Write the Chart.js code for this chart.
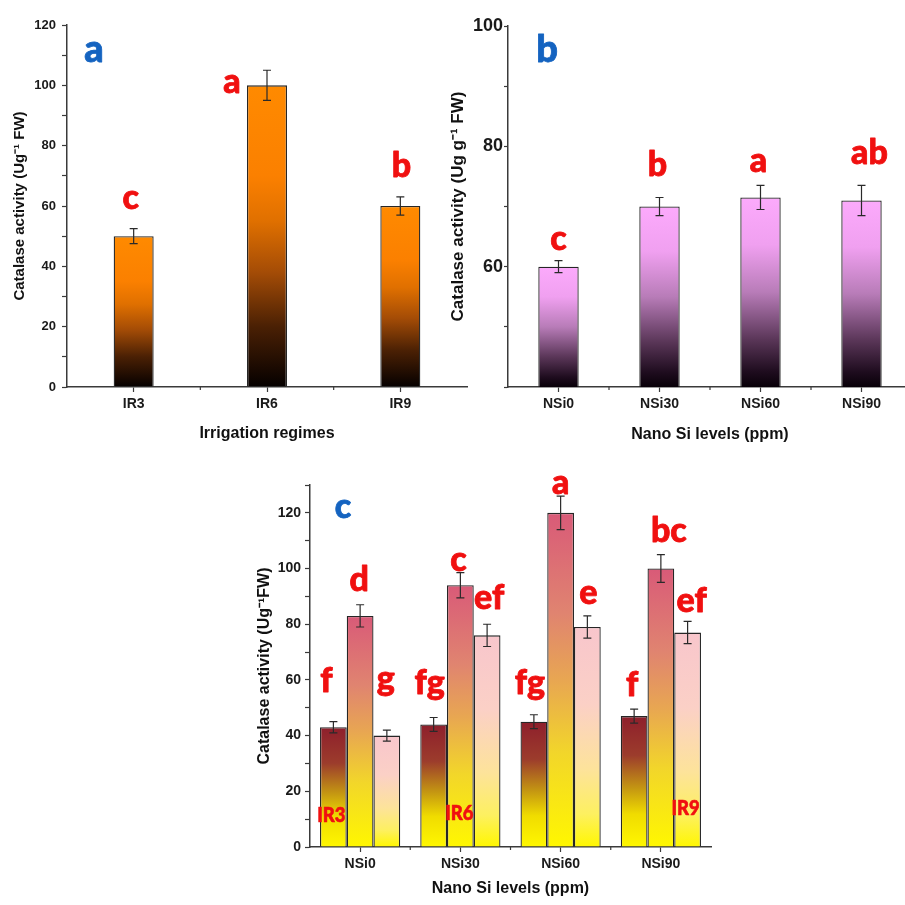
<!DOCTYPE html>
<html><head><meta charset="utf-8">
<script src="https://cdn.jsdelivr.net/npm/chart.js@4.4.0/dist/chart.umd.min.js"></script>
<style>
html,body{margin:0;padding:0;background:#fff;width:905px;height:905px;overflow:hidden;position:relative;}
canvas{position:absolute;}
</style></head><body>
<canvas id="ca" width="470" height="445" style="left:0;top:0;width:470px;height:445px"></canvas>
<canvas id="cb" width="472" height="445" style="left:440px;top:0;width:472px;height:445px"></canvas>
<canvas id="cc" width="484" height="455" style="left:230px;top:450px;width:484px;height:455px"></canvas>
<script>
// ---------- DATA ----------
const irCategories = ['IR3', 'IR6', 'IR9'];
const irValues = [50, 100, 60];
const irErrors = [2.5, 5, 3];
const irLetters = ['c', 'a', 'b'];

const nsiCategories = ['NSi0', 'NSi30', 'NSi60', 'NSi90'];
const nsiValues = [60, 70, 71.5, 71];
const nsiErrors = [1, 1.5, 2, 2.5];
const nsiLetters = ['c', 'b', 'a', 'ab'];

const comboSeries = ['IR3', 'IR6', 'IR9'];
const comboIR3 = [43, 44, 45, 47];
const comboIR6 = [83, 94, 120, 100];
const comboIR9 = [40, 76, 79, 77];
const comboIR3Err = [2, 2.5, 2.5, 2.5];
const comboIR6Err = [4, 4.5, 6, 5];
const comboIR9Err = [2, 4, 4, 4];
const comboIR3Letters = ['f', 'fg', 'fg', 'f'];
const comboIR6Letters = ['d', 'c', 'a', 'bc'];
const comboIR9Letters = ['g', 'ef', 'e', 'ef'];

// ---------- STYLE ----------
const RED = '#f01010';
const BLUE = '#1463c0';
const AXIS = '#3a3a3a';
const FONT = "'Liberation Sans', Arial, sans-serif";
const LFONT = "Lato, 'Noto Sans', sans-serif";

const gradA = [[0, '#ff8a00'], [0.3, '#fb8000'], [0.45, '#e07000'], [0.62, '#a44c06'], [0.8, '#4a2004'], [1, '#050000']];
const gradB = [[0, '#fcaafc'], [0.25, '#f0a0f0'], [0.5, '#b87cb8'], [0.75, '#5a3658'], [0.92, '#1e0c1e'], [1, '#080008']];
const gradC = [
  [[0, '#8e1f2c'], [0.3, '#9c3c2c'], [0.55, '#c49612'], [0.75, '#f0dc00'], [1, '#fff700']],
  [[0, '#d95a78'], [0.3, '#e08470'], [0.5, '#e8a652'], [0.72, '#f2d62a'], [1, '#fff700']],
  [[0, '#f8c6cc'], [0.35, '#fbd0c6'], [0.65, '#fde39a'], [0.85, '#fdf060'], [1, '#fff700']]
];

// letter label offsets (px) relative to the top of each error bar
const offA = [[-3, -20], [-35, 23], [1, -20]];
const offB = [[0, -11], [-2, -21], [-2, -13], [8, -21]];
const offC = [
  [[-7, -30], [-4, -24], [-4, -21], [-2, -13]],
  [[-1, -14], [-2, -2], [0, -2], [8, -13]],
  [[-1, -40], [2, -15], [1, -12], [4, -9]]
];

Chart.defaults.font.family = FONT;
Chart.defaults.font.weight = 'bold';
Chart.defaults.color = '#222';

function barGradient(stops) {
  return (ctx) => {
    const chart = ctx.chart;
    const y = chart.scales.y;
    const v = ctx.raw;
    if (!chart.chartArea || !y || typeof v !== 'number') return stops[0][1];
    const top = y.getPixelForValue(v);
    const bot = y.getPixelForValue(y.min);
    const g = chart.ctx.createLinearGradient(0, top, 0, bot);
    stops.forEach(([o, c]) => g.addColorStop(o, c));
    return g;
  };
}

function boldText(c, txt, x, y, w) {
  c.lineJoin = 'round';
  c.lineWidth = w;
  c.strokeText(txt, x, y);
  c.fillText(txt, x, y);
}

function annotPlugin(cfg) {
  return {
    id: 'annot' + cfg.name,
    afterDraw(chart) {
      // minor x ticks between categories
      const xs = chart.scales.x;
      const c = chart.ctx;
      const n = chart.data.labels.length;
      c.save();
      c.strokeStyle = AXIS;
      c.lineWidth = 1.2;
      c.beginPath();
      for (let i = 0; i < n - 1; i++) {
        const px = (xs.getPixelForValue(i) + xs.getPixelForValue(i + 1)) / 2;
        c.moveTo(px, xs.top); c.lineTo(px, xs.top + 3);
      }
      c.stroke();
      c.restore();
    },
    afterDatasetsDraw(chart) {
      const c = chart.ctx;
      const ys = chart.scales.y;
      c.save();
      // error bars
      cfg.errors.forEach((errs, di) => {
        const meta = chart.getDatasetMeta(di);
        const vals = chart.data.datasets[di].data;
        meta.data.forEach((el, i) => {
          const t = ys.getPixelForValue(vals[i] + errs[i]);
          const b = ys.getPixelForValue(vals[i] - errs[i]);
          c.strokeStyle = '#2a2a2a';
          c.lineWidth = 1.2;
          c.beginPath();
          c.moveTo(el.x, t); c.lineTo(el.x, b);
          c.moveTo(el.x - 4, t); c.lineTo(el.x + 4, t);
          c.moveTo(el.x - 4, b); c.lineTo(el.x + 4, b);
          c.stroke();
        });
      });
      // letters
      c.fillStyle = RED;
      c.strokeStyle = RED;
      c.textAlign = 'center';
      c.textBaseline = 'alphabetic';
      c.font = '900 ' + cfg.letterSize + 'px ' + LFONT;
      cfg.letters.forEach((lets, di) => {
        const meta = chart.getDatasetMeta(di);
        const vals = chart.data.datasets[di].data;
        meta.data.forEach((el, i) => {
          const t = ys.getPixelForValue(vals[i] + cfg.errors[di][i]);
          const o = cfg.offsets[di][i];
          boldText(c, lets[i], el.x + o[0], t + o[1], 0.8);
        });
      });
      // series tags
      if (cfg.tags) {
        c.font = '900 21px ' + LFONT;
        cfg.tags.forEach(tg => {
          const el = chart.getDatasetMeta(tg.ds).data[tg.idx];
          c.save();
          c.translate(el.x + tg.dx, ys.getPixelForValue(0) - tg.up);
          c.scale(0.88, 1);
          boldText(c, tg.text, 0, 0, 0.6);
          c.restore();
        });
      }
      // panel label
      const ca = chart.chartArea;
      c.fillStyle = BLUE;
      c.strokeStyle = BLUE;
      c.font = '900 ' + cfg.panel.size + 'px ' + LFONT;
      boldText(c, cfg.panel.text, ca.left + cfg.panel.dx, ca.top + cfg.panel.dy, 0.8);
      c.restore();
    }
  };
}

function yAxis(opts) {
  return {
    min: opts.min, max: opts.max,
    border: { display: true, color: AXIS, width: 1.5 },
    grid: { display: true, drawOnChartArea: false, drawTicks: true, tickLength: opts.tickLen, tickColor: AXIS, tickWidth: 1.2 },
    ticks: {
      stepSize: 10, padding: opts.pad, color: '#1a1a1a',
      font: { size: opts.tickSize, weight: 'bold' },
      callback: opts.cb
    },
    title: { display: true, text: opts.title, color: '#111', font: { size: opts.titleSize, weight: 'bold' }, padding: { top: opts.titlePad, bottom: 0 } },
    afterFit: (s) => { s.width = opts.width; }
  };
}
function xAxis(opts) {
  return {
    border: { display: true, color: AXIS, width: 1.5 },
    grid: { display: true, offset: false, drawOnChartArea: false, drawTicks: true, tickLength: 5, tickColor: AXIS, tickWidth: 1.2 },
    ticks: { padding: 4, color: '#1a1a1a', font: { size: opts.tickSize, weight: 'bold' } },
    title: { display: true, text: opts.title, color: '#111', font: { size: 16, weight: 'bold' }, padding: { top: 0, bottom: opts.titlePad } },
    afterFit: (s) => { s.height = opts.height; }
  };
}
const baseOpts = {
  responsive: false, animation: false,
  plugins: { legend: { display: false }, tooltip: { enabled: false } }
};

// ---------- PANEL A ----------
new Chart(document.getElementById('ca'), {
  type: 'bar',
  data: {
    labels: irCategories,
    datasets: [{ data: irValues, backgroundColor: barGradient(gradA), borderColor: '#262626', borderWidth: 1.3, barPercentage: 0.3, categoryPercentage: 1 }]
  },
  options: Object.assign({}, baseOpts, {
    layout: { padding: { top: 25, right: 3, left: 0, bottom: 0 } },
    scales: {
      x: xAxis({ title: 'Irrigation regimes', tickSize: 14, titlePad: 2, height: 58 }),
      y: yAxis({ min: 0, max: 120, tickLen: 5, pad: 6, tickSize: 13, title: 'Catalase activity (Ug⁻¹ FW)', titleSize: 15, titlePad: 11, width: 67,
        cb: (v) => (v % 20 === 0 ? v : '') })
    }
  }),
  plugins: [annotPlugin({ name: 'a', errors: [irErrors], letters: [irLetters], offsets: [offA], letterSize: 34,
    panel: { text: 'a', size: 38, dx: 27, dy: 37 } })]
});

// ---------- PANEL B ----------
new Chart(document.getElementById('cb'), {
  type: 'bar',
  data: {
    labels: nsiCategories,
    datasets: [{ data: nsiValues, backgroundColor: barGradient(gradB), borderColor: '#262626', borderWidth: 1.3, barPercentage: 0.4, categoryPercentage: 1 }]
  },
  options: Object.assign({}, baseOpts, {
    layout: { padding: { top: 26, right: 0, left: 0, bottom: 0 } },
    scales: {
      x: xAxis({ title: 'Nano Si levels (ppm)', tickSize: 14, titlePad: 1, height: 58 }),
      y: yAxis({ min: 40, max: 100, tickLen: 4, pad: 1, tickSize: 18, title: 'Catalase activity (Ug g⁻¹ FW)', titleSize: 17, titlePad: 8, width: 68,
        cb: (v) => (v >= 60 && v % 20 === 0 ? v : '') })
    }
  }),
  plugins: [annotPlugin({ name: 'b', errors: [nsiErrors], letters: [nsiLetters], offsets: [offB], letterSize: 34,
    panel: { text: 'b', size: 38, dx: 39, dy: 36 } })]
});

// ---------- PANEL C ----------
const comboVals = [comboIR3, comboIR6, comboIR9];
new Chart(document.getElementById('cc'), {
  type: 'bar',
  data: {
    labels: nsiCategories,
    datasets: comboSeries.map((s, i) => ({
      label: s, data: comboVals[i], backgroundColor: barGradient(gradC[i]),
      borderColor: '#262626', borderWidth: 1.3, barPercentage: 1, categoryPercentage: 0.8
    }))
  },
  options: Object.assign({}, baseOpts, {
    layout: { padding: { top: 35, right: 3, left: 0, bottom: 0 } },
    scales: {
      x: xAxis({ title: 'Nano Si levels (ppm)', tickSize: 14, titlePad: 7, height: 58 }),
      y: yAxis({ min: 0, max: 130, tickLen: 5, pad: 4, tickSize: 14, title: 'Catalase activity (Ug⁻¹FW)', titleSize: 16, titlePad: 25, width: 80,
        cb: (v) => (v % 20 === 0 ? v : '') })
    }
  }),
  plugins: [annotPlugin({ name: 'c',
    errors: [comboIR3Err, comboIR6Err, comboIR9Err],
    letters: [comboIR3Letters, comboIR6Letters, comboIR9Letters],
    offsets: offC, letterSize: 34,
    tags: [
      { text: comboSeries[0], ds: 0, idx: 0, dx: -2, up: 25 },
      { text: comboSeries[1], ds: 1, idx: 1, dx: -1, up: 27 },
      { text: comboSeries[2], ds: 2, idx: 3, dx: -2, up: 32 }
    ],
    panel: { text: 'c', size: 34, dx: 33, dy: 33 } })]
});
</script>
</body></html>
